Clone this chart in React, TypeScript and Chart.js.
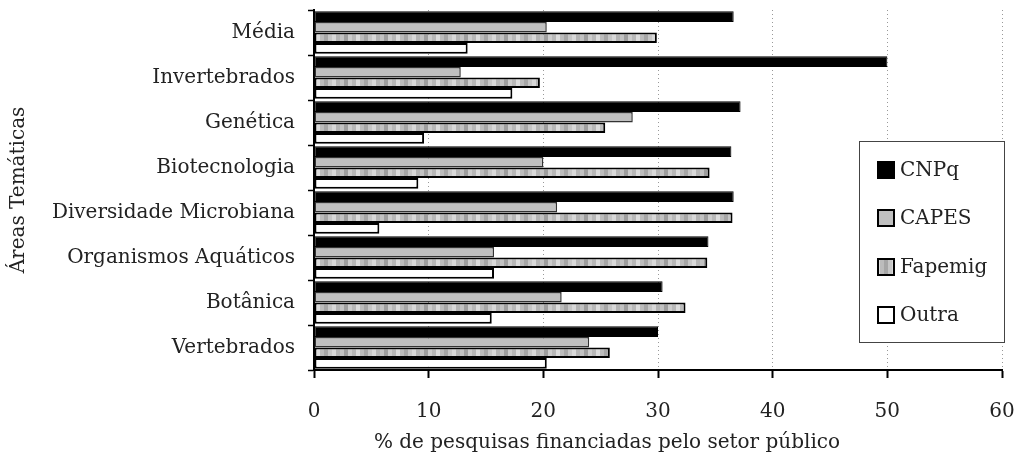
import React, { useEffect, useRef } from "react";
import { Chart, registerables } from "chart.js";

Chart.register(...registerables);

const categories = [
  "Média",
  "Invertebrados",
  "Genética",
  "Biotecnologia",
  "Diversidade Microbiana",
  "Organismos Aquáticos",
  "Botânica",
  "Vertebrados",
];
const seriesNames = ["CNPq", "CAPES", "Fapemig", "Outra"];
const cnpq = [36.6, 50.0, 37.2, 36.4, 36.6, 34.4, 30.4, 30.0];
const capes = [20.3, 12.8, 27.8, 20.0, 21.2, 15.7, 21.6, 24.0];
const fapemig = [29.9, 19.7, 25.4, 34.5, 36.5, 34.3, 32.4, 25.8];
const outra = [13.4, 17.3, 9.6, 9.1, 5.7, 15.7, 15.5, 20.3];
const xTicks = [0, 10, 20, 30, 40, 50, 60];
const xTitle = "% de pesquisas financiadas pelo setor público";
const yTitle = "Áreas Temáticas";

const FONT = "'DejaVu Serif', 'Liberation Serif', serif";
const TEXT = "#222";

function makePattern(): CanvasPattern | string {
  const c = document.createElement("canvas");
  const shades = ["#bcbcbc", "#a6a6a6", "#c6c6c6", "#d8d8d8", "#b4b4b4", "#c2c2c2", "#9e9e9e", "#cccccc", "#b8b8b8", "#dcdcdc"];
  c.width = shades.length * 4;
  c.height = 12;
  const g = c.getContext("2d");
  if (!g) return "#bbbbbb";
  g.fillStyle = "#bbbbbb";
  g.fillRect(0, 0, c.width, c.height);
  shades.forEach((s, i) => {
    g.fillStyle = s;
    g.fillRect(i * 4, 0, 4, 12);
  });
  const p = g.createPattern(c, "repeat");
  return p || "#bbbbbb";
}

const overlayPlugin = {
  id: "overlay",
  afterDraw(chart: any) {
    const ctx = chart.ctx as CanvasRenderingContext2D;
    ctx.save();
    const bx = 859, by = 141, bw = 145, bh = 201;
    ctx.fillStyle = "#fff";
    ctx.fillRect(bx, by, bw, bh);
    ctx.strokeStyle = "#444";
    ctx.lineWidth = 1;
    ctx.strokeRect(bx + 0.5, by + 0.5, bw, bh);
    const rowY = [170, 218, 267, 315];
    ctx.font = `20px ${FONT}`;
    ctx.textBaseline = "middle";
    ctx.textAlign = "left";
    chart.data.datasets.forEach((ds: any, i: number) => {
      const y = rowY[i];
      const sx = 878, sy = y - 8, s = 16;
      ctx.fillStyle = ds.backgroundColor;
      ctx.fillRect(sx, sy, s, s);
      ctx.strokeStyle = "#000";
      ctx.lineWidth = 2;
      ctx.strokeRect(sx, sy, s, s);
      ctx.fillStyle = TEXT;
      ctx.fillText(ds.label, 900, y + 1);
    });
    ctx.font = `20px ${FONT}`;
    ctx.textAlign = "center";
    ctx.textBaseline = "middle";
    ctx.fillStyle = TEXT;
    ctx.fillText(xTitle, 607, 443);
    ctx.restore();
  },
};

export default function App() {
  const ref = useRef<HTMLCanvasElement | null>(null);
  useEffect(() => {
    if (!ref.current) return;
    const pattern = makePattern();
    const chart = new Chart(ref.current, {
      type: "bar",
      data: {
        labels: categories,
        datasets: [
          { label: seriesNames[0], data: cnpq, backgroundColor: "#000", borderColor: "#000", borderWidth: 1 },
          { label: seriesNames[1], data: capes, backgroundColor: "#c0c0c0", borderColor: "#333", borderWidth: 1.5 },
          { label: seriesNames[2], data: fapemig, backgroundColor: pattern as any, borderColor: "#000", borderWidth: 2 },
          { label: seriesNames[3], data: outra, backgroundColor: "#fff", borderColor: "#000", borderWidth: 2 },
        ],
      },
      options: {
        indexAxis: "y",
        responsive: true,
        maintainAspectRatio: false,
        animation: false,
        layout: { padding: { top: 10, right: 20, left: 0, bottom: 0 } },
        datasets: { bar: { categoryPercentage: 0.94, barPercentage: 1.0, borderSkipped: false } },
        plugins: {
          legend: { display: false },
          tooltip: { enabled: false },
        },
        scales: {
          x: {
            type: "linear",
            min: 0,
            max: 60,
            afterBuildTicks: (scale: any) => {
              scale.ticks = xTicks.map((v) => ({ value: v }));
            },
            afterFit: (scale: any) => {
              scale.height = 92;
              scale.paddingLeft = 0;
              scale.paddingRight = 0;
            },
            ticks: {
              font: { family: FONT, size: 20 },
              color: TEXT,
              padding: 22,
            },
            grid: {
              color: "#999",
              lineWidth: 1,
              tickColor: "#000",
              tickWidth: 2,
              tickLength: 8,
            },
            border: { color: "#000", width: 2, dash: [1, 3] },
          },
          y: {
            type: "category",
            afterFit: (scale: any) => {
              scale.width = 314;
              scale.paddingTop = 0;
              scale.paddingBottom = 0;
            },
            ticks: {
              font: { family: FONT, size: 20 },
              color: TEXT,
              padding: 13,
            },
            grid: {
              drawOnChartArea: false,
              offset: true,
              tickColor: "#000",
              tickLength: 6,
              tickWidth: 1.5,
            },
            border: { color: "#000", width: 2 },
            title: {
              display: true,
              text: yTitle,
              font: { family: FONT, size: 20 },
              color: TEXT,
              padding: { top: 7, bottom: 0 },
            },
          },
        },
      },
      plugins: [overlayPlugin],
    });
    return () => chart.destroy();
  }, []);
  return (
    <div style={{ position: "fixed", left: 0, top: 0, width: 1022, height: 462, background: "#fff" }}>
      <canvas ref={ref} />
    </div>
  );
}
